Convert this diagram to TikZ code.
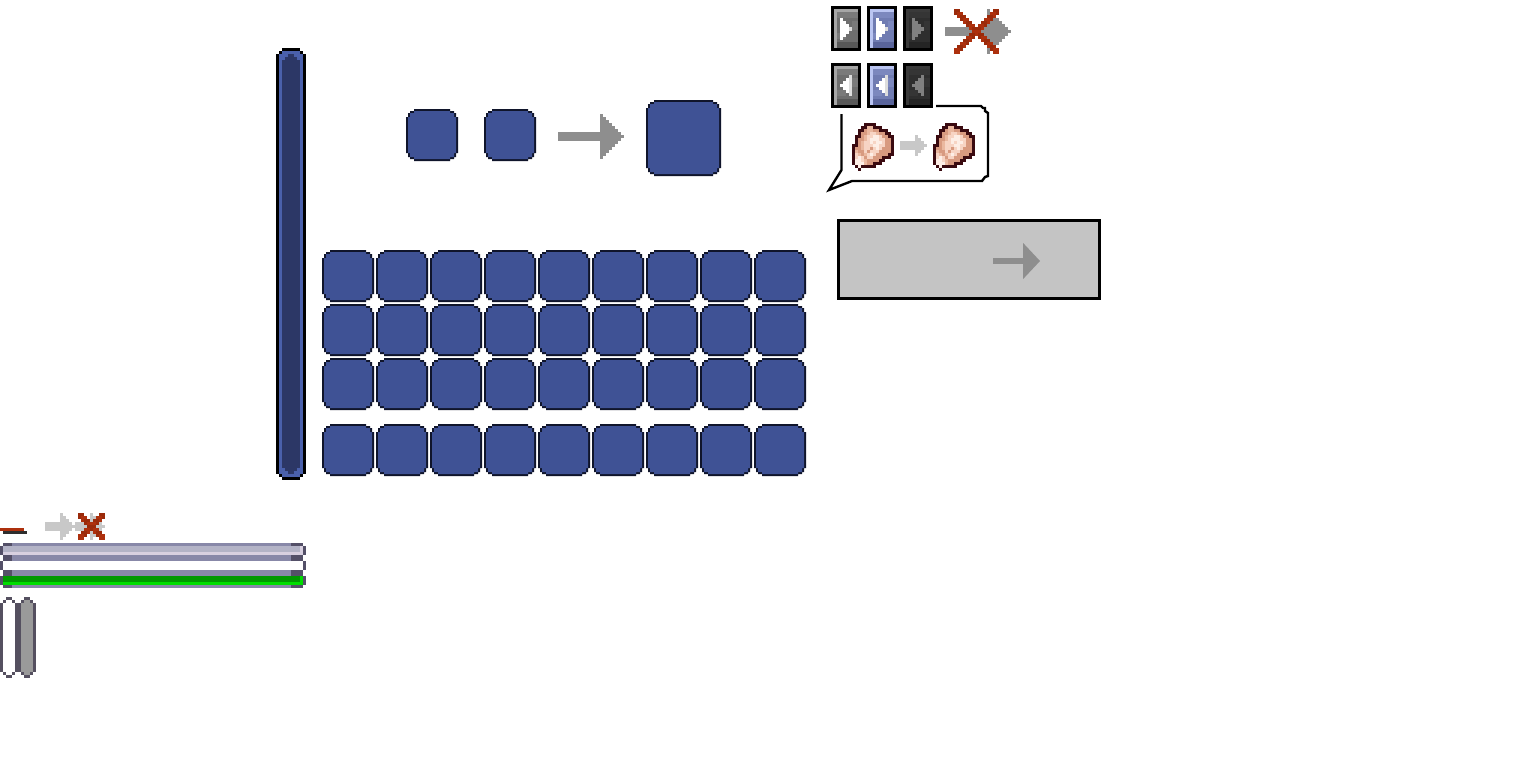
\documentclass[tikz,border=0pt]{standalone}
\definecolor{slotB}{HTML}{3F5295}
\definecolor{slotE}{HTML}{10152B}
\definecolor{rim}{HTML}{4A60AB}
\definecolor{deep}{HTML}{2C3766}
\definecolor{arrG}{HTML}{8E8E8E}
\definecolor{arrL}{HTML}{C8C8C8}
\definecolor{redA}{HTML}{9A2A0A}
\definecolor{redB}{HTML}{AD300D}
\definecolor{barD}{HTML}{545068}
\definecolor{barM}{HTML}{8888A8}
\definecolor{barL}{HTML}{B3B3C6}
\definecolor{barH}{HTML}{D8D0E0}
\definecolor{capD}{HTML}{555060}
\definecolor{capG}{HTML}{9A9A9A}
\definecolor{greenA}{HTML}{009900}
\definecolor{greenB}{HTML}{00DD00}
\definecolor{panel}{HTML}{C4C4C4}
\definecolor{gM}{HTML}{6E6E6E}
\definecolor{gS}{HTML}{7A7A7A}
\definecolor{gH}{HTML}{A6A6A6}
\definecolor{gL}{HTML}{585858}
\definecolor{gT}{HTML}{DDDDDD}
\definecolor{bM}{HTML}{707CB2}
\definecolor{bS}{HTML}{7C88BE}
\definecolor{bH}{HTML}{BAC5F2}
\definecolor{bL}{HTML}{5A659C}
\definecolor{dM}{HTML}{2E2E2E}
\definecolor{dS}{HTML}{353535}
\definecolor{dH}{HTML}{3A3A3A}
\definecolor{dL}{HTML}{242424}
\definecolor{dT}{HTML}{808080}
\definecolor{Z}{HTML}{3A0A10}
\definecolor{A}{HTML}{D89A80}
\definecolor{B}{HTML}{EAB8A0}
\definecolor{C}{HTML}{F7D4C4}
\definecolor{W}{HTML}{FDEEE6}
\definecolor{o}{HTML}{FFFFFF}
% stepped slot: x y width height
\newcommand{\slotbox}[4]{%
 \begin{scope}[shift={(#1,#2)}]
 \pgfmathsetmacro{\wa}{#3}\pgfmathsetmacro{\ha}{#4}
 \pgfmathsetmacro{\wb}{#3-2}\pgfmathsetmacro{\wc}{#3-4}\pgfmathsetmacro{\wd}{#3-8}
 \pgfmathsetmacro{\hb}{#4-2}\pgfmathsetmacro{\hc}{#4-4}\pgfmathsetmacro{\hd}{#4-8}
 \fill[slotE] (8,0)--(\wd,0)--(\wd,2)--(\wc,2)--(\wc,4)--(\wb,4)--(\wb,8)--(\wa,8)--(\wa,\hd)--(\wb,\hd)--(\wb,\hc)--(\wc,\hc)--(\wc,\hb)--(\wd,\hb)--(\wd,\ha)--(8,\ha)--(8,\hb)--(4,\hb)--(4,\hc)--(2,\hc)--(2,\hd)--(0,\hd)--(0,8)--(2,8)--(2,4)--(4,4)--(4,2)--(8,2)--cycle;
 \fill[slotB] (8,2)--(\wd,2)--(\wd,4)--(\wc,4)--(\wc,8)--(\wb,8)--(\wb,\hd)--(\wc,\hd)--(\wc,\hc)--(\wd,\hc)--(\wd,\hb)--(8,\hb)--(8,\hc)--(4,\hc)--(4,\hd)--(2,\hd)--(2,8)--(4,8)--(4,4)--(8,4)--cycle;
 \end{scope}}
% stepped arrow: x0 shaftEnd ytop ybot steps colour shaftHalf
\newcommand{\pxarrow}[7]{%
 \pgfmathsetmacro{\yc}{(#3+#4)/2}
 \fill[#6] (#1,\yc-#7) rectangle (#2+0.2,\yc+#7);
 \foreach \i in {1,...,#5}{
  \fill[#6] ({#2+3*(\i-1)},{#3+3*(\i-1)}) rectangle ({#2+3*\i+0.02},{#4-3*(\i-1)});
 }}
% stepped cross: x y steps
\newcommand{\pxcross}[3]{%
 \foreach \i in {0,...,#3}{
  \pgfmathtruncatemacro{\cc}{mod(\i,2)}
  \ifnum\cc=0 \def\cl{redA}\else \def\cl{redB}\fi
  \fill[\cl] ({#1+3*\i},{#2+3*\i}) rectangle ({#1+3*\i+6},{#2+3*\i+6});
  \fill[\cl] ({#1+3*#3-3*\i},{#2+3*\i}) rectangle ({#1+3*#3-3*\i+6},{#2+3*\i+6});
 }}
% button: x y main hi low triCol tipCol dir streak
\newcommand{\btn}[9]{%
 \begin{scope}[shift={(#1,#2)}]
 \fill[black] (0,0) rectangle (30,45);
 \fill[#3] (3,3) rectangle (27,42);
 \fill[#9] (6,6) rectangle (27,12);
 \fill[#9] (21,15) rectangle (27,24);
 \fill[#9] (6,27) rectangle (15,33);
 \fill[#5] (6,36) rectangle (27,42);
 \fill[#4] (3,3) rectangle (27,6);
 \fill[#4] (3,3) rectangle (6,42);
 \ifnum#8=0
  \fill[#6] (9,12) rectangle (12,34);
  \fill[#6] (12,15) rectangle (15,31);
  \fill[#6] (15,18) rectangle (18,28);
  \fill[#7] (18,21) rectangle (21,25);
 \else
  \fill[#6] (9,21) rectangle (12,24);
  \fill[#6] (12,18) rectangle (15,27);
  \fill[#6] (15,15) rectangle (18,30);
  \fill[#7] (18,12) rectangle (21,33);
 \fi
 \end{scope}}
% pink stone
\newcommand{\stonerow}[2]{%
 \foreach \c [count=\n from 0] in {#2}{
  \fill[\c] ({3*\n},#1) rectangle ({3*\n+3.02},#1+3.02);
 }}
\newcommand{\stone}[2]{%
 \begin{scope}[shift={(#1,#2)}]
 \stonerow{0}{o,o,o,o,Z,Z,Z,Z,o,o,o,o,o,o}
 \stonerow{3}{o,o,o,Z,Z,B,B,Z,Z,Z,o,o,o,o}
 \stonerow{6}{o,o,Z,Z,A,B,B,A,A,Z,Z,Z,o,o}
 \stonerow{9}{o,o,Z,A,A,B,C,C,B,A,A,Z,Z,o}
 \stonerow{12}{o,Z,Z,A,B,C,C,W,W,C,A,A,Z,Z}
 \stonerow{15}{o,Z,A,A,B,C,W,W,W,C,C,A,A,Z}
 \stonerow{18}{o,Z,A,B,C,C,W,C,W,W,C,A,A,Z}
 \stonerow{21}{Z,Z,A,B,C,C,C,W,W,C,C,A,A,Z}
 \stonerow{24}{Z,A,A,B,C,C,A,C,W,C,A,A,A,Z}
 \stonerow{27}{Z,B,A,A,C,A,C,C,C,A,A,A,A,Z}
 \stonerow{30}{Z,C,B,A,B,C,W,C,A,A,A,A,Z,Z}
 \stonerow{33}{Z,C,W,C,A,C,C,A,A,A,Z,Z,Z,o}
 \stonerow{36}{Z,W,W,C,B,A,A,A,A,Z,Z,o,o,o}
 \stonerow{39}{Z,W,W,W,B,A,A,Z,Z,Z,o,o,o,o}
 \stonerow{42}{o,Z,W,Z,Z,Z,Z,Z,o,o,o,o,o,o}
 \stonerow{45}{o,o,Z,o,o,o,o,o,o,o,o,o,o,o}
 \end{scope}}
% capsule: x offset, fill colour
\newcommand{\capsule}[2]{%
 \begin{scope}[shift={(#1,0)}]
 \fill[#2] (3,603) rectangle (15,672);
 \fill[#2] (6,600) rectangle (12,675);
 \fill[capD] (6,597) rectangle (12,600);
 \fill[capD] (3,600) rectangle (6,603);
 \fill[capD] (12,600) rectangle (15,603);
 \fill[capD] (0,603) rectangle (3,672);
 \fill[capD] (15,603) rectangle (18,672);
 \fill[capD] (3,672) rectangle (6,675);
 \fill[capD] (12,672) rectangle (15,675);
 \fill[capD] (6,675) rectangle (12,678);
 \end{scope}}
\begin{document}
\begin{tikzpicture}[x=1pt,y=-1pt]
\useasboundingbox (0,0) rectangle (1536,768);
\fill[white] (0,0) rectangle (1536,768);
% vertical bar
\fill[black] (282,48) rectangle (300,51);
\fill[black] (279,51) rectangle (303,54);
\fill[black] (276,54) rectangle (306,474);
\fill[black] (279,474) rectangle (303,477);
\fill[black] (282,477) rectangle (300,480);
\fill[rim] (282,51) rectangle (300,54);
\fill[rim] (279,54) rectangle (303,474);
\fill[rim] (282,474) rectangle (300,477);
\fill[deep] (288,54) rectangle (294,57);
\fill[deep] (285,57) rectangle (297,60);
\fill[deep] (282,60) rectangle (300,468);
\fill[deep] (285,468) rectangle (297,471);
\fill[deep] (288,471) rectangle (294,474);
% slots
\slotbox{406}{109}{52}{52}
\slotbox{484}{109}{52}{52}
\slotbox{646}{100}{75}{76}
\foreach \r in {250,304,358,424}{
 \foreach \k in {0,...,8}{
  \pgfmathsetmacro{\sx}{322+54*\k}
  \slotbox{\sx}{\r}{52}{52}
 }}
% big arrow
\pxarrow{558}{600}{114}{159}{8}{arrG}{4.5}
% buttons
\btn{831}{6}{gM}{gH}{gL}{white}{gT}{0}{gS}
\btn{867}{6}{bM}{bH}{bL}{white}{gT}{0}{bS}
\btn{903}{6}{dM}{dH}{dL}{dT}{dT}{0}{dS}
\btn{831}{63}{gM}{gH}{gL}{white}{gT}{1}{gS}
\btn{867}{63}{bM}{bH}{bL}{white}{gT}{1}{bS}
\btn{903}{63}{dM}{dH}{dL}{dT}{dT}{1}{dS}
% crossed arrow
\pxarrow{945}{987}{9}{54}{8}{arrG}{4.5}
\pxcross{954}{9}{13}
% speech bubble
\draw[black,line width=2.4pt,miter limit=10]
 (936,106)--(981,106)--(983,108)--(985,108)--(985,111)--(988,113)--(988,176)--(985,177)--(982,181)--(852,181)--(829,190)--(841.5,170)--(841.5,114);
\stone{852}{123}
\stone{933}{123}
\pxarrow{900}{915}{135}{156}{4}{arrL}{4.5}
% grey panel
\fill[black] (837,219) rectangle (1101,300);
\fill[panel] (840,222) rectangle (1098,297);
\fill[arrG] (993,258) rectangle (1024,264);
\fill[arrG] (1023,243)--(1025,245)--(1040,261)--(1025,277)--(1023,279)--cycle;
% left arrows and cross
\fill[redB] (0,528) rectangle (24,531);
\fill[dM] (3,531) rectangle (27,534);
\pxarrow{45}{60}{513}{540}{5}{arrL}{4.5}
\pxarrow{75}{90}{513}{540}{5}{arrL}{4.5}
\pxcross{78}{513}{7}
% bars
\fill[barM] (3,543) rectangle (303,561);
\fill[barM] (3,570) rectangle (303,588);
\fill[barD] (3,543) rectangle (12,546);
\fill[barD] (291,543) rectangle (303,546);
\fill[barD] (3,555) rectangle (12,561);
\fill[barD] (291,555) rectangle (303,561);
\fill[barD] (3,570) rectangle (12,576);
\fill[barD] (291,570) rectangle (303,576);
\fill[barD] (3,585) rectangle (12,588);
\fill[barD] (291,585) rectangle (303,588);
\fill[barL] (3,546) rectangle (300,552);
\fill[barH] (3,552) rectangle (303,555);
\fill[barH] (300,546) rectangle (303,555);
\fill[greenA] (3,576) rectangle (300,582);
\fill[greenB] (3,582) rectangle (303,585);
\fill[greenB] (300,576) rectangle (303,585);
\fill[barD] (0,546) rectangle (3,555);
\fill[barD] (0,561) rectangle (3,570);
\fill[barD] (0,576) rectangle (3,585);
\fill[barD] (303,546) rectangle (306,555);
\fill[barD] (303,561) rectangle (306,570);
\fill[barD] (303,576) rectangle (306,585);
% capsules
\capsule{0}{white}
\capsule{18}{capG}
\end{tikzpicture}
\end{document}
